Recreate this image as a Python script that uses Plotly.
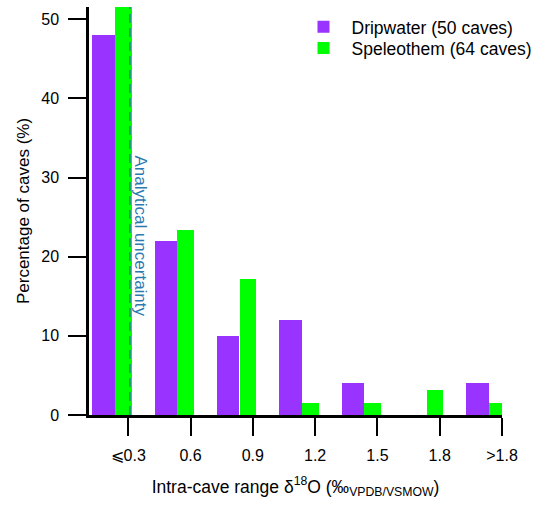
import plotly.graph_objects as go

categories = ["⩽0.3", "0.6", "0.9", "1.2", "1.5", "1.8", ">1.8"]
dripwater = [48, 22, 10, 12, 4, 0, 4]
speleothem = [51.5625, 23.4375, 17.1875, 1.5625, 1.5625, 3.125, 1.5625]
pos = list(range(len(categories)))

FONT = "Liberation Sans, Arial, sans-serif"
fig = go.Figure()
fig.add_trace(go.Bar(x=pos, y=dripwater, name="Dripwater (50 caves)",
                     marker=dict(color="#9933FF", line=dict(width=0)),
                     width=0.36, offset=-0.575, legend="legend", showlegend=True))
fig.add_trace(go.Bar(x=pos, y=speleothem, name="Speleothem (64 caves)",
                     marker=dict(color="#00FF00", line=dict(width=0)),
                     width=0.265, offset=-0.21, legend="legend2", showlegend=True))

fig.add_shape(type="line", xref="x", yref="paper", x0=0.027, x1=0.027, y0=0, y1=1,
              line=dict(color="#2a7ab0", width=1.5, dash="9px,5px"))
fig.add_annotation(x=0.19, y=0.44, xref="x", yref="paper", text="Analytical uncertainty",
                   textangle=90, showarrow=False, font=dict(family=FONT, size=17, color="#2a7ab0"))

leg = dict(x=0.5, xanchor="left", yanchor="middle", itemwidth=46,
           font=dict(size=17.5), bgcolor="rgba(0,0,0,0)")
fig.update_layout(
    width=535, height=506, margin=dict(l=89, r=33, t=7, b=91, autoexpand=False),
    plot_bgcolor="white", paper_bgcolor="white",
    font=dict(family=FONT, size=16, color="black"),
    bargap=0, barmode="overlay", showlegend=True,
    legend=dict(leg, y=0.951),
    legend2=dict(leg, y=0.8995),
    xaxis=dict(range=[-0.63, 6], tickvals=pos, ticktext=categories, showgrid=False,
               zeroline=False, showline=True, linecolor="black", linewidth=2.5,
               ticks="outside", ticklen=18, tickwidth=2, tickcolor="black",
               ticklabelstandoff=6, automargin=False,
               title=dict(text="Intra-cave range δ<sup>18</sup>O (‰<sub>VPDB/VSMOW</sub>)",
                          standoff=18, font=dict(size=17.5))),
    yaxis=dict(range=[0, 51.5625], tickvals=[0, 10, 20, 30, 40, 50], showgrid=False,
               zeroline=False, showline=True, linecolor="black", linewidth=2.5,
               ticks="outside", ticklen=18, tickwidth=2, tickcolor="black",
               ticklabelstandoff=6, automargin=False,
               title=dict(text="Percentage of caves (%)", standoff=8, font=dict(size=17))),
)
fig.write_html("out.html")
